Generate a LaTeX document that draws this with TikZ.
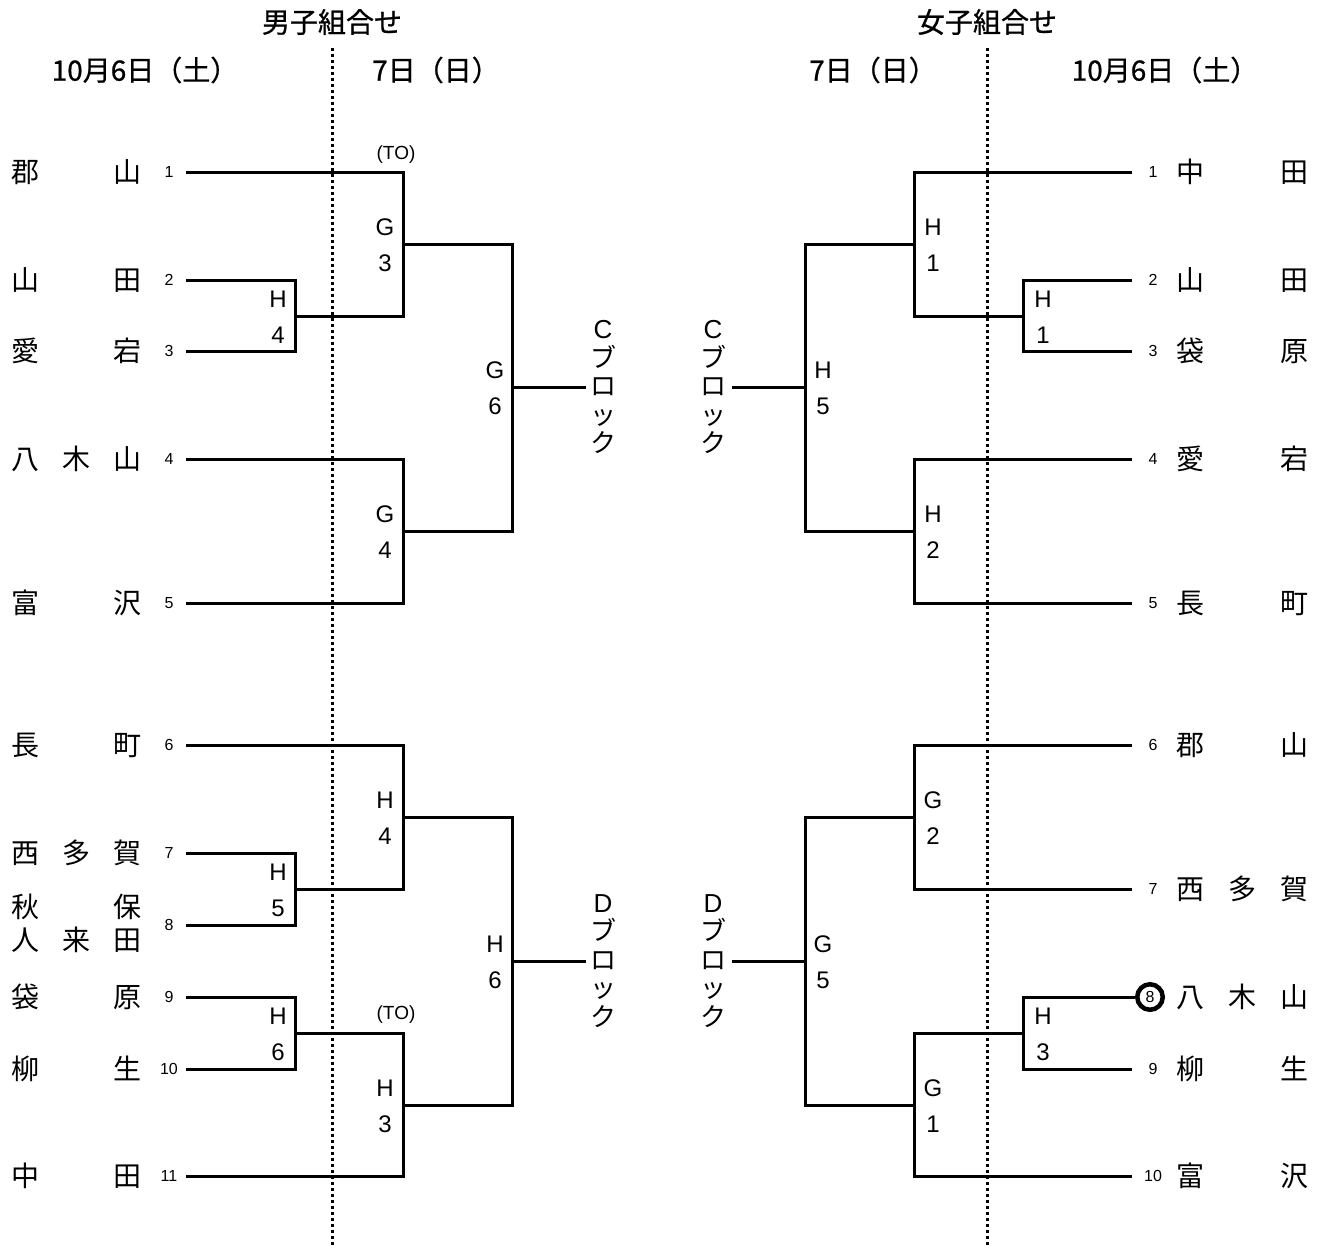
\documentclass[tikz,border=0pt]{standalone}
\usepackage{fontspec}
\setmainfont{Noto Sans CJK JP}
\newfontfamily\lat{Liberation Sans}
\newfontfamily\hdf[FakeBold=0.8]{Noto Sans CJK JP}
\begin{document}
\begin{tikzpicture}[x=1pt,y=-1pt,
  nm/.style={font=\fontsize{28}{28}\selectfont, inner sep=0pt},
  sd/.style={font=\lat\fontsize{16}{16}\selectfont, inner sep=0pt},
  lb/.style={font=\lat\fontsize{24}{24}\selectfont, inner sep=0pt},
  hd/.style={font=\hdf\fontsize{28}{28}\selectfont, inner sep=0pt},
  blk/.style={font=\fontsize{26}{28.5}\selectfont, inner sep=0pt, align=center},
  to/.style={font=\lat\fontsize{19}{19}\selectfont, inner sep=0pt},
  br/.style={line width=3pt},
  dv/.style={line width=3pt, dash pattern=on 3pt off 3pt},
  circ/.style={circle, draw, line width=4.5pt, minimum size=25.5pt, inner sep=0pt, font=\lat\fontsize{16}{16}\selectfont}]
\useasboundingbox (0,0) rectangle (1326,1248);

% headers
\node[hd] (mh) at (332,22) {男子組合せ};
\node[hd] (md1) at (145,70) {10月6日（土）};
\node[hd] (md2) at (436,70) {7日（日）};
\node[hd] (wh) at (987,22) {女子組合せ};
\node[hd] (wd2) at (873,70) {7日（日）};
\node[hd] (wd1) at (1165,70) {10月6日（土）};

% divider lines
\coordinate (mdt) at (332,48); \coordinate (mdb) at (332,1248);
\coordinate (wdt) at (987,48); \coordinate (wdb) at (987,1248);
\draw[dv] (mdt) -- (mdb);
\draw[dv] (wdt) -- (wdb);

% ===== men =====
\newcommand\mteam[3]{\node[nm] (#1) at (77,#2) {\makebox[130pt]{#3}};}
\mteam{mt1}{172}{郡\hfill 山}
\mteam{mt2}{280}{山\hfill 田}
\mteam{mt3}{351}{愛\hfill 宕}
\mteam{mt4}{459}{八\hfill 木\hfill 山}
\mteam{mt5}{603}{富\hfill 沢}
\mteam{mt6}{745}{長\hfill 町}
\mteam{mt7}{853}{西\hfill 多\hfill 賀}
\mteam{mt8a}{907}{秋\hfill 保}
\mteam{mt8b}{940}{人\hfill 来\hfill 田}
\mteam{mt9}{997}{袋\hfill 原}
\mteam{mt10}{1069}{柳\hfill 生}
\mteam{mt11}{1176}{中\hfill 田}

\foreach \n/\y in {1/172,2/280,3/351,4/459,5/603,6/745,7/853,8/925,9/997,10/1069,11/1176}{
  \node[sd] (ms\n) at (169,\y) {\n};
  \coordinate (mL\n) at (186,\y);
}

\coordinate (mH4a) at (295,316);
\coordinate (mG3) at (403,244);
\coordinate (mG4) at (403,531);
\coordinate (mG6) at (512,387);
\coordinate (mH5) at (295,889);
\coordinate (mH4b) at (403,817);
\coordinate (mH6a) at (295,1033);
\coordinate (mH3) at (403,1105);
\coordinate (mH6b) at (512,961);

\node[blk] (mC) at (603,387) {{\lat C}\\ブ\\ロ\\ッ\\ク};
\node[blk] (mD) at (603,961) {{\lat D}\\ブ\\ロ\\ッ\\ク};
\coordinate (mCe) at (586,387);
\coordinate (mDe) at (586,961);

\begin{scope}[br]
\draw (mL2) -| (mH4a); \draw (mL3) -| (mH4a);
\draw (mL1) -| (mG3); \draw (mH4a) -| (mG3);
\draw (mL4) -| (mG4); \draw (mL5) -| (mG4);
\draw (mG3) -| (mG6); \draw (mG4) -| (mG6);
\draw (mG6) -- (mCe);
\draw (mL7) -| (mH5); \draw (mL8) -| (mH5);
\draw (mL6) -| (mH4b); \draw (mH5) -| (mH4b);
\draw (mL9) -| (mH6a); \draw (mL10) -| (mH6a);
\draw (mH6a) -| (mH3); \draw (mL11) -| (mH3);
\draw (mH4b) -| (mH6b); \draw (mH3) -| (mH6b);
\draw (mH6b) -- (mDe);
\end{scope}

% men match labels
\newcommand\mlab[5]{\node[lb] (#1a) at (#2,#3-17) {#4}; \node[lb] (#1b) at (#2,#3+19) {#5};}
\mlab{lmH4a}{278}{316}{H}{4}
\mlab{lmG3}{385}{244}{G}{3}
\mlab{lmG4}{385}{531}{G}{4}
\mlab{lmG6}{495}{387}{G}{6}
\mlab{lmH5}{278}{889}{H}{5}
\mlab{lmH4b}{385}{817}{H}{4}
\mlab{lmH6a}{278}{1033}{H}{6}
\mlab{lmH3}{385}{1105}{H}{3}
\mlab{lmH6b}{495}{961}{H}{6}
\node[to] (mto1) at (396,155) {(TO)};
\node[to] (mto2) at (396,1015) {(TO)};

% ===== women =====
\newcommand\wteam[3]{\node[nm] (#1) at (1242,#2) {\makebox[132pt]{#3}};}
\wteam{wt1}{172}{中\hfill 田}
\wteam{wt2}{280}{山\hfill 田}
\wteam{wt3}{351}{袋\hfill 原}
\wteam{wt4}{459}{愛\hfill 宕}
\wteam{wt5}{603}{長\hfill 町}
\wteam{wt6}{745}{郡\hfill 山}
\wteam{wt7}{889}{西\hfill 多\hfill 賀}
\wteam{wt8}{997}{八\hfill 木\hfill 山}
\wteam{wt9}{1069}{柳\hfill 生}
\wteam{wt10}{1176}{富\hfill 沢}

\foreach \n/\y in {1/172,2/280,3/351,4/459,5/603,6/745,7/889,9/1069,10/1176}{
  \node[sd] (ws\n) at (1153,\y) {\n};
  \coordinate (wR\n) at (1132,\y);
}
\node[circ] (ws8) at (1150,997) {8};

\coordinate (wH1b) at (1023,316);
\coordinate (wH1a) at (914,244);
\coordinate (wH2) at (914,531);
\coordinate (wH5) at (805,387);
\coordinate (wG2) at (914,817);
\coordinate (wH3) at (1023,1033);
\coordinate (wG1) at (914,1105);
\coordinate (wG5) at (805,961);

\node[blk] (wC) at (713,387) {{\lat C}\\ブ\\ロ\\ッ\\ク};
\node[blk] (wD) at (713,961) {{\lat D}\\ブ\\ロ\\ッ\\ク};
\coordinate (wCe) at (732,387);
\coordinate (wDe) at (732,961);

\begin{scope}[br]
\draw (wR2) -| (wH1b); \draw (wR3) -| (wH1b);
\draw (wR1) -| (wH1a); \draw (wH1b) -| (wH1a);
\draw (wR4) -| (wH2); \draw (wR5) -| (wH2);
\draw (wH1a) -| (wH5); \draw (wH2) -| (wH5);
\draw (wH5) -- (wCe);
\draw (wR6) -| (wG2); \draw (wR7) -| (wG2);
\draw (ws8.west) -| (wH3); \draw (wR9) -| (wH3);
\draw (wH3) -| (wG1); \draw (wR10) -| (wG1);
\draw (wG2) -| (wG5); \draw (wG1) -| (wG5);
\draw (wG5) -- (wDe);
\end{scope}

\mlab{lwH1a}{933}{244}{H}{1}
\mlab{lwH1b}{1043}{316}{H}{1}
\mlab{lwH2}{933}{531}{H}{2}
\mlab{lwH5}{823}{387}{H}{5}
\mlab{lwG2}{933}{817}{G}{2}
\mlab{lwH3}{1043}{1033}{H}{3}
\mlab{lwG1}{933}{1105}{G}{1}
\mlab{lwG5}{823}{961}{G}{5}

\end{tikzpicture}
\end{document}
